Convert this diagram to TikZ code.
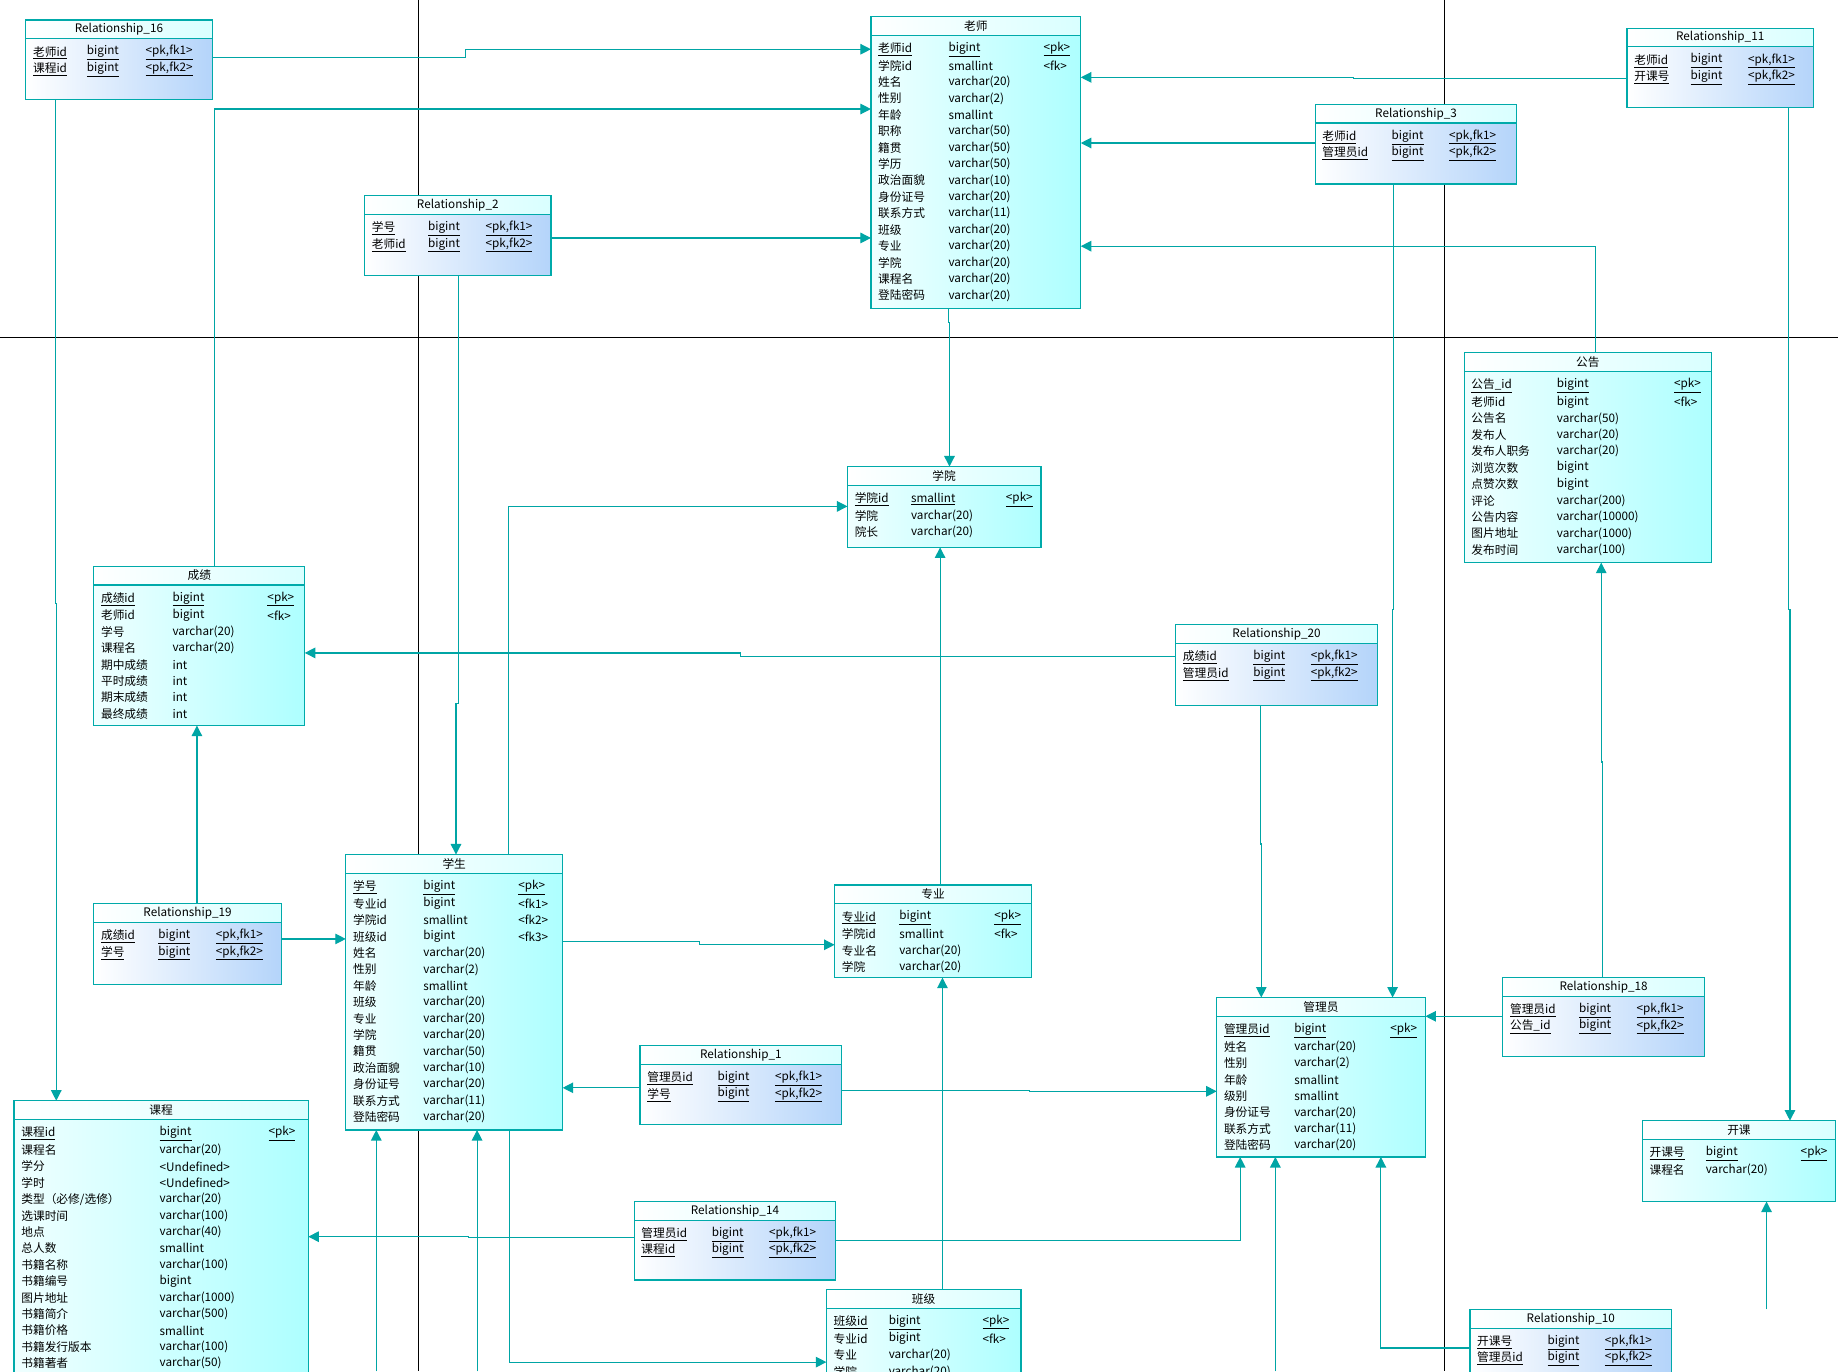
\documentclass[tikz,border=0pt]{standalone}
\usepackage{fontspec}
\setmainfont{Noto Sans CJK SC}
\usetikzlibrary{arrows.meta,fit}
\definecolor{tealb}{RGB}{0,170,170}
\definecolor{tealc}{RGB}{0,165,165}
\definecolor{relb}{RGB}{180,212,250}
\tikzset{
 ent/.style={draw=tealb,line width=1pt,left color=cyan!6,right color=cyan!32},
 rel/.style={draw=tealb,line width=1pt,left color=white,right color=relb},
 hdr/.style={draw=tealb,line width=1pt,left color=white,right color=cyan!15},
 cell/.style={anchor=west,inner sep=0pt,font=\fontsize{10}{11}\selectfont},
 ttl/.style={inner sep=0pt,font=\fontsize{10}{11}\selectfont},
 con/.style={draw=tealc,line width=1pt,-{Triangle[width=9pt,length=9pt]}},
 pg/.style={draw=black,line width=1pt}
}
\def\myslash{/}
\def\tblsplit#1/#2\relax{\def\cb{#1}\def\cc{#2}}
\newcommand\tbl[9]{%
 \path[#7] (#2,#3) rectangle (#4,#5);
 \node[fit={(#2,#3)(#4,#5)},inner sep=0pt] (#1) {};
 \path[hdr] (#2,#3) rectangle (#4,#3+16);
 \node[ttl] at ({(#2+#4)/2},#3+8) {#6};
 \tblsplit#8\relax
 \foreach \a/\b/\c/\u [count=\i from 0] in {#9}{
  \pgfmathsetmacro\yy{#3+28+14*\i}
  \node[cell] at (#2+6,\yy) {\ifnum\u=1 \underline{\a}\else\a\fi};
  \node[cell] at (#2+\cb,\yy) {\ifnum\u=1 \underline{\b}\else\b\fi};
  \node[cell] at (#2+\cc,\yy) {\ifnum\u=1 \underline{\c}\else\c\fi};
 }}
\begin{document}
\begin{tikzpicture}[x=1pt,y=-1pt]
\useasboundingbox (0,0) rectangle (1568,1170);
\clip (0,0) rectangle (1568,1170);
\fill[white] (0,0) rectangle (1568,1170);
\draw[pg] (357,0) -- (357,1170);
\draw[pg] (1232,0) -- (1232,1170);
\draw[pg] (0,288) -- (1568,288);
% connectors
\draw[con] (181,49) -- (397,49) -- (397,42) -- (743,42);
\draw[con] (47,85) -- (47,515) -- (48,515) -- (48,939);
\draw[con] (183,483) -- (183,93) -- (743,93);
\draw[con] (470,203) -- (743,203);
\draw[con] (391,235) -- (391,600) -- (389,600) -- (389,729);
\draw[con] (1388,67) -- (1155,67) -- (1155,66) -- (922,66);
\draw[con] (1122,122) -- (922,122);
\draw[con] (1361,301) -- (1361,210) -- (922,210);
\draw[con] (809,263) -- (809,275) -- (810,275) -- (810,398);
\draw[con] (1189,157) -- (1189,520) -- (1188,520) -- (1188,851);
\draw[con] (1526,92) -- (1526,520) -- (1527,520) -- (1527,956);
\draw[con] (434,729) -- (434,432) -- (723,432);
\draw[con] (1003,560) -- (632,560) -- (632,557) -- (260,557);
\draw[con] (1075,602) -- (1075,720) -- (1076,720) -- (1076,851);
\draw[con] (1367,834) -- (1367,650) -- (1366,650) -- (1366,480);
\draw[con] (802,755) -- (802,467);
\draw[con] (168,771) -- (168,619);
\draw[con] (240,801) -- (295,801);
\draw[con] (480,803) -- (597,803) -- (597,806) -- (712,806);
\draw[con] (1282,867) -- (1216,867);
\draw[con] (546,928) -- (480,928);
\draw[con] (718,930) -- (878,930) -- (878,931) -- (1038,931);
\draw[con] (804,1100) -- (804,834);
\draw[con] (541,1056) -- (400,1056) -- (400,1055) -- (263,1055);
\draw[con] (713,1058) -- (1058,1058) -- (1058,987);
\draw[con] (321,1170) -- (321,964);
\draw[con] (407,1170) -- (407,964);
\draw[con] (435,964) -- (435,1162) -- (705,1162);
\draw[con] (1088,1170) -- (1088,987);
\draw[con] (1254,1150) -- (1178,1150) -- (1178,987);
\draw[con] (1507,1117) -- (1507,1025);
% tables
\tbl{R16}{22}{17}{181}{85}{Relationship\_16}{rel}{52/102}{老师id/bigint/<pk{,}fk1>/1,课程id/bigint/<pk{,}fk2>/1}
\tbl{LS}{743}{14}{922}{263}{老师}{ent}{66/147}{老师id/bigint/<pk>/1,学院id/smallint/<fk>/0,姓名/varchar(20)//0,性别/varchar(2)//0,年龄/smallint//0,职称/varchar(50)//0,籍贯/varchar(50)//0,学历/varchar(50)//0,政治面貌/varchar(10)//0,身份证号/varchar(20)//0,联系方式/varchar(11)//0,班级/varchar(20)//0,专业/varchar(20)//0,学院/varchar(20)//0,课程名/varchar(20)//0,登陆密码/varchar(20)//0}
\tbl{R11}{1388}{24}{1547}{92}{Relationship\_11}{rel}{54/103}{老师id/bigint/<pk{,}fk1>/1,开课号/bigint/<pk{,}fk2>/1}
\tbl{R3}{1122}{89}{1294}{157}{Relationship\_3}{rel}{65/114}{老师id/bigint/<pk{,}fk1>/1,管理员id/bigint/<pk{,}fk2>/1}
\tbl{R2}{311}{167}{470}{235}{Relationship\_2}{rel}{54/103}{学号/bigint/<pk{,}fk1>/1,老师id/bigint/<pk{,}fk2>/1}
\tbl{GG}{1249}{301}{1460}{480}{公告}{ent}{79/179}{公告\_id/bigint/<pk>/1,老师id/bigint/<fk>/0,公告名/varchar(50)//0,发布人/varchar(20)//0,发布人职务/varchar(20)//0,浏览次数/bigint//0,点赞次数/bigint//0,评论/varchar(200)//0,公告内容/varchar(10000)//0,图片地址/varchar(1000)//0,发布时间/varchar(100)//0}
\tbl{XY}{723}{398}{888}{467}{学院}{ent}{54/135}{学院id/smallint/<pk>/1,学院/varchar(20)//0,院长/varchar(20)//0}
\tbl{CJ}{80}{483}{260}{619}{成绩}{ent}{67/148}{成绩id/bigint/<pk>/1,老师id/bigint/<fk>/0,学号/varchar(20)//0,课程名/varchar(20)//0,期中成绩/int//0,平时成绩/int//0,期末成绩/int//0,最终成绩/int//0}
\tbl{R20}{1003}{533}{1175}{602}{Relationship\_20}{rel}{66/115}{成绩id/bigint/<pk{,}fk1>/1,管理员id/bigint/<pk{,}fk2>/1}
\tbl{R19}{80}{771}{240}{840}{Relationship\_19}{rel}{55/104}{成绩id/bigint/<pk{,}fk1>/1,学号/bigint/<pk{,}fk2>/1}
\tbl{XS}{295}{729}{480}{964}{学生}{ent}{66/147}{学号/bigint/<pk>/1,专业id/bigint/<fk1>/0,学院id/smallint/<fk2>/0,班级id/bigint/<fk3>/0,姓名/varchar(20)//0,性别/varchar(2)//0,年龄/smallint//0,班级/varchar(20)//0,专业/varchar(20)//0,学院/varchar(20)//0,籍贯/varchar(50)//0,政治面貌/varchar(10)//0,身份证号/varchar(20)//0,联系方式/varchar(11)//0,登陆密码/varchar(20)//0}
\tbl{ZY}{712}{755}{880}{834}{专业}{ent}{55/136}{专业id/bigint/<pk>/1,学院id/smallint/<fk>/0,专业名/varchar(20)//0,学院/varchar(20)//0}
\tbl{R18}{1282}{834}{1454}{901}{Relationship\_18}{rel}{65/114}{管理员id/bigint/<pk{,}fk1>/1,公告\_id/bigint/<pk{,}fk2>/1}
\tbl{GL}{1038}{851}{1216}{987}{管理员}{ent}{66/148}{管理员id/bigint/<pk>/1,姓名/varchar(20)//0,性别/varchar(2)//0,年龄/smallint//0,级别/smallint//0,身份证号/varchar(20)//0,联系方式/varchar(11)//0,登陆密码/varchar(20)//0}
\tbl{R1}{546}{892}{718}{959}{Relationship\_1}{rel}{66/115}{管理员id/bigint/<pk{,}fk1>/1,学号/bigint/<pk{,}fk2>/1}
\tbl{KC}{12}{939}{263}{1240}{课程}{ent}{124/217}{课程id/bigint/<pk>/1,课程名/varchar(20)//0,学分/<Undefined>//0,学时/<Undefined>//0,类型（必修\myslash 选修）/varchar(20)//0,选课时间/varchar(100)//0,地点/varchar(40)//0,总人数/smallint//0,书籍名称/varchar(100)//0,书籍编号/bigint//0,图片地址/varchar(1000)//0,书籍简介/varchar(500)//0,书籍价格/smallint//0,书籍发行版本/varchar(100)//0,书籍著者/varchar(50)//0}
\tbl{KK}{1401}{956}{1566}{1025}{开课}{ent}{54/135}{开课号/bigint/<pk>/1,课程名/varchar(20)//0}
\tbl{R14}{541}{1025}{713}{1092}{Relationship\_14}{rel}{66/115}{管理员id/bigint/<pk{,}fk1>/1,课程id/bigint/<pk{,}fk2>/1}
\tbl{BJ}{705}{1100}{871}{1240}{班级}{ent}{53/133}{班级id/bigint/<pk>/1,专业id/bigint/<fk>/0,专业/varchar(20)//0,学院/varchar(20)//0}
\tbl{R10}{1254}{1117}{1426}{1240}{Relationship\_10}{rel}{66/115}{开课号/bigint/<pk{,}fk1>/1,管理员id/bigint/<pk{,}fk2>/1}
\end{tikzpicture}
\end{document}
